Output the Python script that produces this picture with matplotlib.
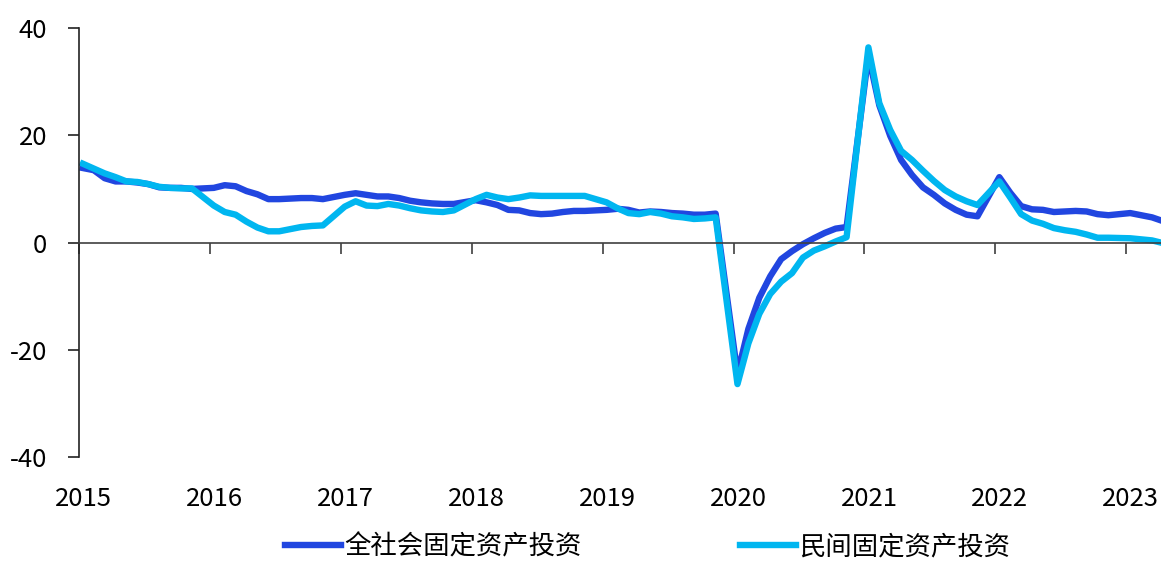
import numpy as np
import matplotlib
matplotlib.use('Agg')
import matplotlib.pyplot as plt
import matplotlib.transforms as mtransforms

plt.rcParams['font.family'] = ['Noto Sans CJK SC', 'DejaVu Sans']
plt.rcParams['axes.unicode_minus'] = False

# cumulative YoY, Jan-Feb .. Jan-Dec each year (no separate January)
years = [2015, 2016, 2017, 2018, 2019, 2020, 2021, 2022, 2023]
months = [2, 3, 4, 5, 6, 7, 8, 9, 10, 11, 12]

total = [
    13.9, 13.5, 12.0, 11.4, 11.4, 11.2, 10.9, 10.3, 10.2, 10.2, 10.0,
    10.2, 10.7, 10.5, 9.6, 9.0, 8.1, 8.1, 8.2, 8.3, 8.3, 8.1,
    8.9, 9.2, 8.9, 8.6, 8.6, 8.3, 7.8, 7.5, 7.3, 7.2, 7.2,
    7.9, 7.5, 7.0, 6.1, 6.0, 5.5, 5.3, 5.4, 5.7, 5.9, 5.9,
    6.1, 6.3, 6.1, 5.6, 5.8, 5.7, 5.5, 5.4, 5.2, 5.2, 5.4,
    -24.5, -16.1, -10.3, -6.3, -3.1, -1.6, -0.3, 0.8, 1.8, 2.6, 2.9,
    35.0, 25.6, 19.9, 15.4, 12.6, 10.3, 8.9, 7.3, 6.1, 5.2, 4.9,
    12.2, 9.3, 6.8, 6.2, 6.1, 5.7, 5.8, 5.9, 5.8, 5.3, 5.1,
    5.5, 5.1, 4.7, 4.0,
]
private = [
    14.7, 13.8, 12.9, 12.2, 11.4, 11.3, 10.9, 10.4, 10.2, 10.1, 10.1,
    6.9, 5.7, 5.2, 3.9, 2.8, 2.1, 2.1, 2.5, 2.9, 3.1, 3.2,
    6.7, 7.7, 6.9, 6.8, 7.2, 6.9, 6.4, 6.0, 5.8, 5.7, 6.0,
    8.1, 8.9, 8.4, 8.1, 8.4, 8.8, 8.7, 8.7, 8.7, 8.7, 8.7,
    7.5, 6.4, 5.5, 5.3, 5.7, 5.4, 4.9, 4.7, 4.4, 4.5, 4.7,
    -26.4, -18.8, -13.3, -9.6, -7.3, -5.7, -2.8, -1.5, -0.7, 0.2, 1.0,
    36.4, 26.0, 21.0, 17.1, 15.4, 13.4, 11.5, 9.8, 8.6, 7.7, 7.0,
    11.4, 8.4, 5.3, 4.1, 3.5, 2.7, 2.3, 2.0, 1.5, 0.9, 0.9,
    0.8, 0.6, 0.4, -0.1,
]
labels = ['全社会固定资产投资', '民间固定资产投资']

x = [y + (m - 2) / 12 + 0.03 for y in years for m in months][:len(total)]

fig = plt.figure(figsize=(11.61, 5.62), dpi=100)
ax = fig.add_axes([0.068, 0.1868, 0.932, 0.7632])

ax.plot(x, total, color='#2146E0', lw=4.6, label=labels[0], solid_joinstyle='round')
ax.plot(x, private, color='#00B6F0', lw=4.6, label=labels[1], solid_joinstyle='round')

ax.set_ylim(-40, 40)
ax.set_yticks([-40, -20, 0, 20, 40])
ax.set_xlim(2015, 2023.265)
ax.set_xticks(years)

for s in ['top', 'right']:
    ax.spines[s].set_visible(False)
ax.spines['bottom'].set_position(('data', 0))
ax.spines['bottom'].set_color('#404040')
ax.spines['bottom'].set_linewidth(1.2)
ax.spines['left'].set_color('#222222')
ax.spines['left'].set_linewidth(1.2)

ax.tick_params(axis='x', direction='out', length=8, width=1.2, color='#404040', labelbottom=False)
ax.tick_params(axis='y', direction='out', length=8, width=1.2, color='#222222', pad=15, labelsize=18.5)

trans = mtransforms.blended_transform_factory(ax.transData, fig.transFigure)
for yr in years:
    ax.text(yr + 0.035, 0.112, str(yr), transform=trans, ha='center', va='center', fontsize=18.5)

fig.legend(loc='center', bbox_to_anchor=(0.558, 0.027), ncol=2, frameon=False,
           fontsize=19, handlelength=2.1, handletextpad=0.15, columnspacing=6,
           borderaxespad=0, borderpad=0)

fig.savefig('out.png', dpi=100)
